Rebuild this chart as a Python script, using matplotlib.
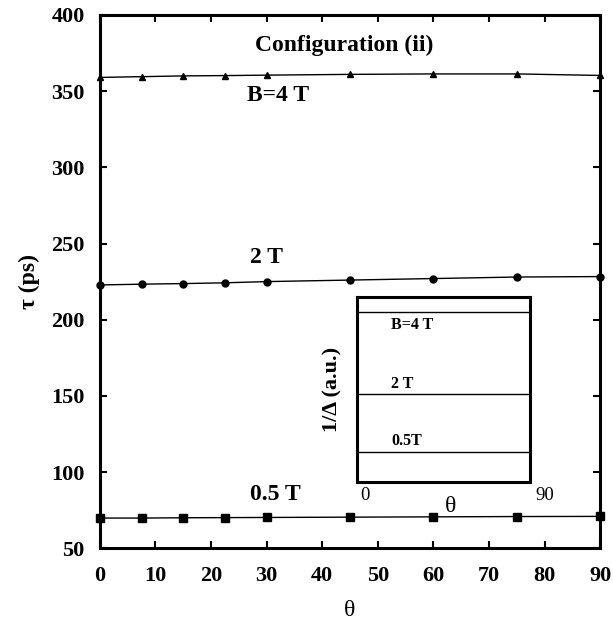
import matplotlib
matplotlib.use("Agg")
import matplotlib.pyplot as plt

theta = [0, 7.5, 15, 22.5, 30, 45, 60, 75, 90]
tau_4T = [359.0, 359.5, 360.0, 360.2, 360.5, 361.0, 361.3, 361.3, 360.3]
tau_2T = [222.8, 223.3, 223.7, 224.2, 225.0, 226.0, 227.0, 228.0, 228.3]
tau_05T = [69.8, 69.8, 70.0, 70.1, 70.2, 70.4, 70.6, 70.8, 70.9]

inset_theta = [0, 90]
inset_4T = [0.92, 0.92]
inset_2T = [0.476, 0.476]
inset_05T = [0.162, 0.162]

xticks = [0, 10, 20, 30, 40, 50, 60, 70, 80, 90]
yticks = [50, 100, 150, 200, 250, 300, 350, 400]

plt.rcParams['font.family'] = ['Liberation Serif', 'DejaVu Serif']

fig = plt.figure(figsize=(6.13, 6.23), dpi=100)
ax = fig.add_axes([0.163, 0.120, 0.816, 0.856])

ax.plot(theta, tau_4T, color='black', lw=1.0, marker='^', ms=4.5, clip_on=False)
ax.plot(theta, tau_2T, color='black', lw=1.0, marker='o', ms=5, clip_on=False)
ax.plot(theta, tau_05T, color='black', lw=1.0, marker='s', ms=5.5, clip_on=False)

ax.set_xlim(0, 90)
ax.set_ylim(50, 400)
ax.set_xticks(xticks)
ax.set_yticks(yticks)
ax.tick_params(direction='in', top=True, right=True, length=5, width=1.5)
ax.tick_params(axis='x', pad=13)
ax.tick_params(axis='y', pad=11)
for lbl in ax.get_xticklabels() + ax.get_yticklabels():
    lbl.set_fontweight('bold')
    lbl.set_fontsize(16)
for s in ax.spines.values():
    s.set_linewidth(2.2)

ax.set_xlabel('θ', fontsize=17, labelpad=10)
ax.set_ylabel('τ (ps)', fontsize=17, fontweight='bold', labelpad=8)

ax.text(44, 380, 'Configuration (ii)', ha='center', va='center', fontsize=17, fontweight='bold')
ax.text(32, 347, 'B=4 T', ha='center', va='center', fontsize=17, fontweight='bold')
ax.text(30, 241, '2 T', ha='center', va='center', fontsize=17, fontweight='bold')
ax.text(31.5, 85, '0.5 T', ha='center', va='center', fontsize=17, fontweight='bold')

ins = fig.add_axes([0.582, 0.226, 0.282, 0.297])
ins.plot(inset_theta, inset_4T, color='black', lw=1.0)
ins.plot(inset_theta, inset_2T, color='black', lw=1.0)
ins.plot(inset_theta, inset_05T, color='black', lw=1.0)
ins.set_xlim(0, 90)
ins.set_ylim(0, 1)
ins.set_xticks([])
ins.set_yticks([])
for s in ins.spines.values():
    s.set_linewidth(2.2)
ins.text(18, 0.85, 'B=4 T', ha='left', va='center', fontsize=11.5, fontweight='bold')
ins.text(18, 0.53, '2 T', ha='left', va='center', fontsize=11.5, fontweight='bold')
ins.text(18, 0.22, '0.5T', ha='left', va='center', fontsize=11.5, fontweight='bold')
ins.text(2, -0.07, '0', ha='left', va='center', fontsize=13.5)
ins.text(98, -0.07, '90', ha='center', va='center', fontsize=13.5)
ins.text(49, -0.13, 'θ', ha='center', va='center', fontsize=17)
ins.set_ylabel('1/Δ (a.u.)', fontsize=16, fontweight='bold', labelpad=10)

fig.savefig('out.png', dpi=100)
